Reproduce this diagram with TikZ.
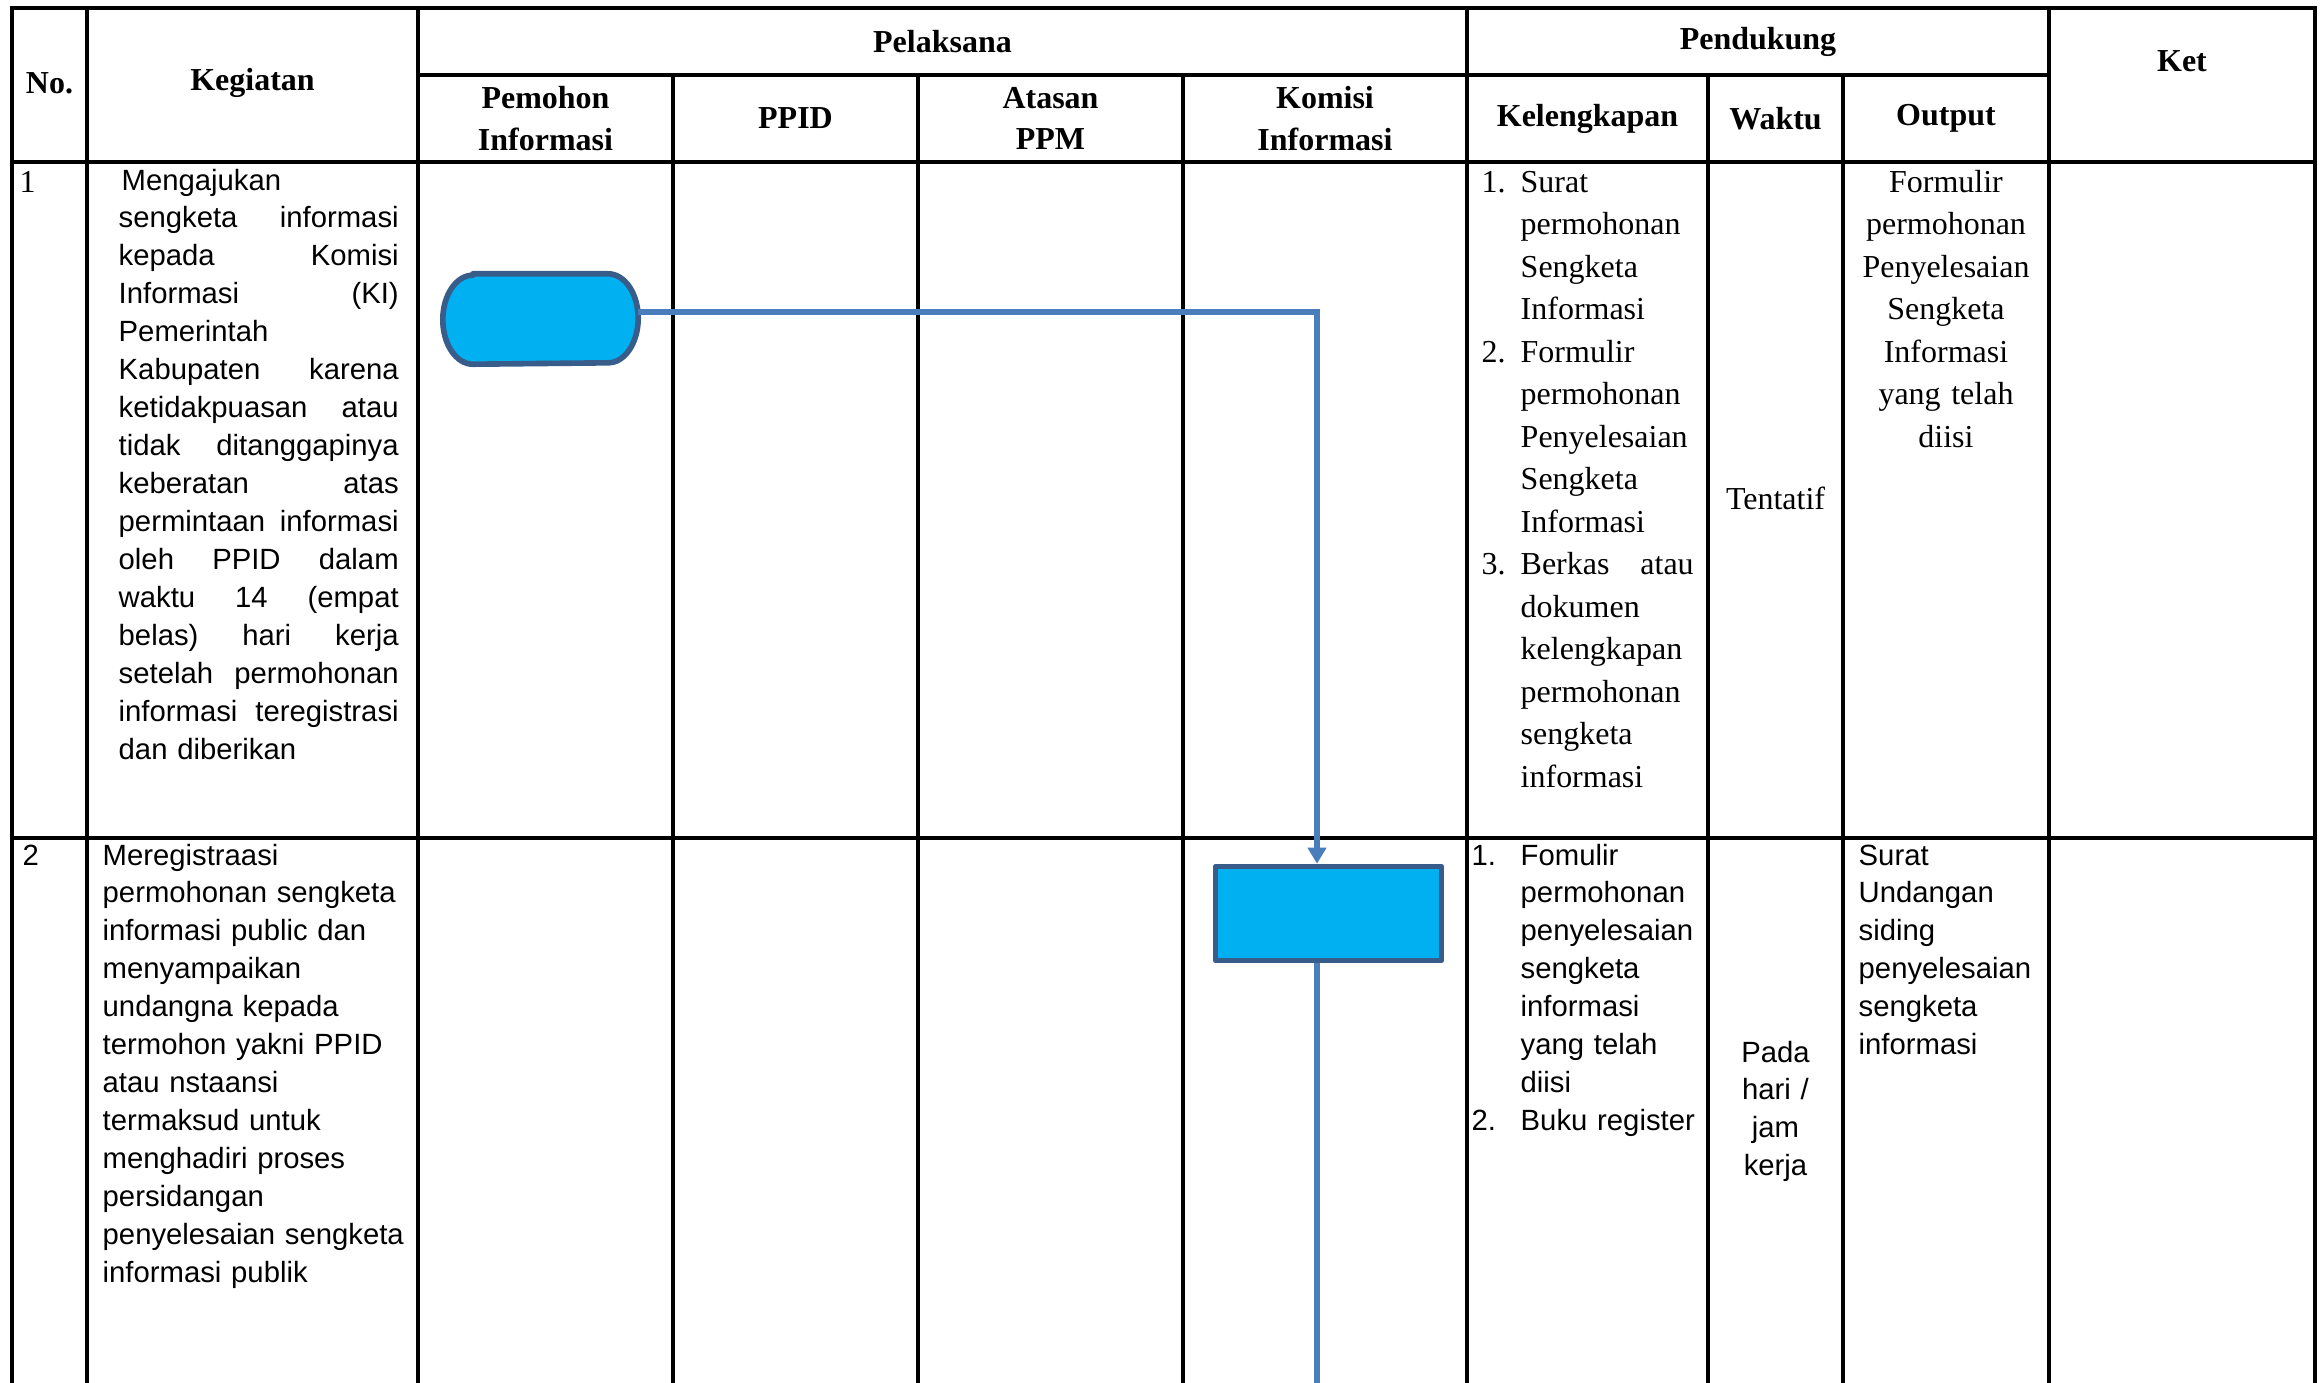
\documentclass[tikz,border=0pt]{standalone}
\usepackage{fontspec}
\setmainfont{Liberation Serif}
\newfontfamily\arialfont{Liberation Sans}
\usetikzlibrary{arrows.meta,positioning,calc}

% justified line (words spread with \hfill) and hanging list number
\newcommand{\jline}[2]{\leavevmode\hbox to #1{#2}}
\newcommand{\itemno}[2]{\leavevmode\llap{\makebox[#1][l]{#2}}}

\begin{document}
\begin{tikzpicture}[
        grid/.style={line width=0.9pt, line cap=rect},
        rule/.style={line width=1.2pt, line cap=rect},
        hdr/.style={font=\bfseries\fontsize{9.1}{11.8}\selectfont, align=center, inner sep=0pt},
        serifcell/.style={font=\fontsize{9.1}{12.1}\selectfont, inner sep=0pt},
        sanscell/.style={font=\arialfont\fontsize{8.33}{10.8}\selectfont, inner sep=0pt},
        flow/.style={draw=flowblue, line width=1.5pt},
        blok/.style={draw=boxedge, fill=boxfill, line width=1.6pt, line join=round}
    ]
        \definecolor{boxfill}{RGB}{0,176,240}
        \definecolor{boxedge}{RGB}{56,93,138}
        \definecolor{flowblue}{RGB}{74,126,187}

        \useasboundingbox (0,0) rectangle (23.23,-13.82);

        % table rules
        \draw[rule] (0.12,-0.08) -- (23.15,-0.08);
        \draw[grid] (4.18,-0.75) -- (20.49,-0.75);
        \draw[rule] (0.12,-1.62) -- (23.15,-1.62);
        \draw[rule] (0.12,-8.38) -- (23.15,-8.38);
        \foreach \x in {0.12,0.87,4.18,14.67,20.49,23.15}
            \draw[grid] (\x,-0.08) -- (\x,-13.9);
        \foreach \x in {6.73,9.18,11.83,17.08,18.43}
            \draw[grid] (\x,-0.75) -- (\x,-13.9);

        % header
        \node[hdr] (no) at (0.495,-0.83) {No.};
        \node[hdr] (kegiatan) at (2.525,-0.83) {Kegiatan};
        \node[hdr] (pelaksana) at (9.425,-0.415) {Pelaksana};
        \node[hdr] (pendukung) at (17.58,-0.415) {Pendukung};
        \node[hdr] (ket) at (21.82,-0.61) {Ket};
        \node[hdr] (pemohon) at (5.455,-1.185) {Pemohon\\Informasi};
        \node[hdr] (ppid) at (7.955,-1.185) {PPID};
        \node[hdr] (atasan) at (10.505,-1.185) {Atasan\\PPM};
        \node[hdr] (komisi) at (13.25,-1.185) {Komisi\\Informasi};
        \node[hdr] (kelengkapan) at (15.875,-1.185) {Kelengkapan};
        \node[hdr] (waktu) at (17.755,-1.185) {Waktu};
        \node[hdr] (output) at (19.46,-1.185) {Output};

        % row 1
        \node[serifcell, anchor=base west] (no1) at (0.19,-1.92) {1};
        \node[sanscell, anchor=base west, text width=2.80cm, align=left] (keg1) at (1.18,-1.90) {\hspace*{0.03cm}Mengajukan\\
            \jline{2.80cm}{sengketa\hfill informasi}\\
            \jline{2.80cm}{kepada\hfill Komisi}\\
            \jline{2.80cm}{Informasi\hfill (KI)}\\
            Pemerintah\\
            \jline{2.80cm}{Kabupaten\hfill karena}\\
            \jline{2.80cm}{ketidakpuasan\hfill atau}\\
            \jline{2.80cm}{tidak\hfill ditanggapinya}\\
            \jline{2.80cm}{keberatan\hfill atas}\\
            \jline{2.80cm}{permintaan\hfill informasi}\\
            \jline{2.80cm}{oleh\hfill PPID\hfill dalam}\\
            \jline{2.80cm}{waktu\hfill 14\hfill (empat}\\
            \jline{2.80cm}{belas)\hfill hari\hfill kerja}\\
            \jline{2.80cm}{setelah\hfill permohonan}\\
            \jline{2.80cm}{informasi\hfill teregistrasi}\\
            dan diberikan};
        \node[serifcell, anchor=base west, text width=1.73cm, align=left] (lengkap1) at (15.20,-1.92) {\itemno{0.39cm}{1.}Surat\\
            permohonan\\ Sengketa\\ Informasi\\
            \itemno{0.39cm}{2.}Formulir\\
            permohonan\\ Penyelesaian\\ Sengketa\\ Informasi\\
            \itemno{0.39cm}{3.}\jline{1.73cm}{Berkas\hfill atau}\\
            dokumen\\ kelengkapan\\ permohonan\\ sengketa\\ informasi};
        \node[serifcell] (waktu1) at (17.755,-4.98) {Tentatif};
        \node[serifcell, anchor=base, text width=2.0cm, align=center] (output1) at (19.46,-1.92) {Formulir\\ permohonan\\ Penyelesaian\\ Sengketa\\ Informasi\\ yang telah\\ diisi};

        % row 2
        \node[sanscell, anchor=base west] (no2) at (0.22,-8.65) {2};
        \node[sanscell, anchor=base west, text width=3.10cm, align=left] (keg2) at (1.02,-8.65) {Meregistraasi\\
            permohonan sengketa\\ informasi public dan\\ menyampaikan\\ undangna kepada\\ termohon yakni PPID\\
            atau nstaansi\\ termaksud untuk\\ menghadiri proses\\ persidangan\\ penyelesaian sengketa\\ informasi publik};
        \node[sanscell, anchor=base west, text width=1.80cm, align=left] (lengkap2) at (15.20,-8.65) {\itemno{0.49cm}{1.}Fomulir\\
            permohonan\\ penyelesaian\\ sengketa\\ informasi\\ yang telah\\ diisi\\
            \itemno{0.49cm}{2.}Buku register};
        \node[sanscell, anchor=base, text width=1.2cm, align=center] (waktu2) at (17.755,-10.62) {Pada\\ hari /\\ jam\\ kerja};
        \node[sanscell, anchor=base west, text width=1.85cm, align=left] (output2) at (18.58,-8.65) {Surat\\ Undangan\\ siding\\ penyelesaian\\ sengketa\\ informasi};

        % flow shapes
        \node[minimum width=1.94cm, minimum height=0.89cm, inner sep=0pt] (mulai) at (5.405,-3.19) {};
        \path[blok] ([xshift=0.3cm]mulai.north west) -- ([xshift=-0.3cm]mulai.north east)
            arc[start angle=90, end angle=-90, x radius=0.3cm, y radius=0.445cm]
            -- ([xshift=0.3cm]mulai.south west)
            arc[start angle=270, end angle=90, x radius=0.3cm, y radius=0.445cm] -- cycle;
        \node[blok, minimum width=2.26cm, minimum height=0.94cm, inner sep=0pt] (registrasi) at (13.285,-9.135) {};

        \draw[flow, -{Triangle[width=0.18cm,length=0.16cm]}] ([yshift=0.07cm]mulai.east) -| ([xshift=-0.115cm]registrasi.north);
        \coordinate (lanjut) at (13.17,-13.9);
        \draw[flow] ([xshift=-0.115cm]registrasi.south) -- (lanjut);
    \end{tikzpicture}
\end{document}
